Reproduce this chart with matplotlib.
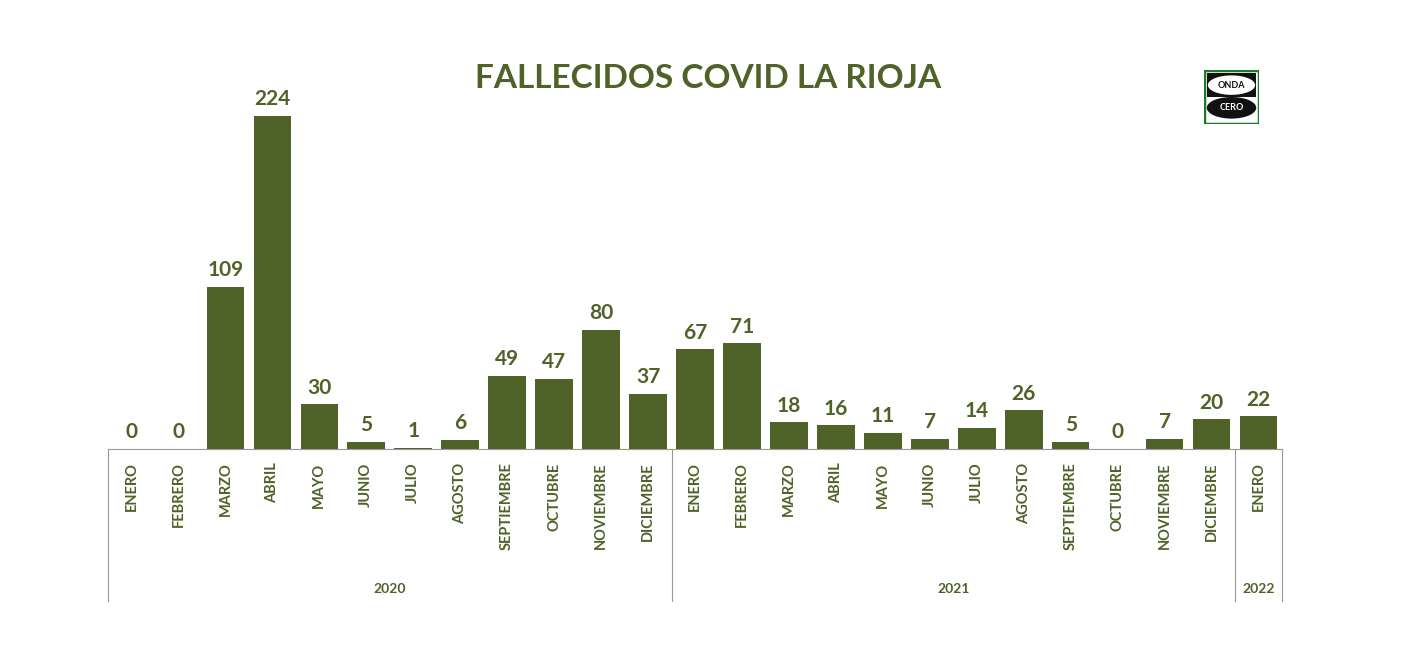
import matplotlib.pyplot as plt
from matplotlib.patches import Ellipse, Rectangle

months = ['ENERO', 'FEBRERO', 'MARZO', 'ABRIL', 'MAYO', 'JUNIO', 'JULIO', 'AGOSTO',
          'SEPTIEMBRE', 'OCTUBRE', 'NOVIEMBRE', 'DICIEMBRE',
          'ENERO', 'FEBRERO', 'MARZO', 'ABRIL', 'MAYO', 'JUNIO', 'JULIO', 'AGOSTO',
          'SEPTIEMBRE', 'OCTUBRE', 'NOVIEMBRE', 'DICIEMBRE', 'ENERO']
fallecidos = [0, 0, 109, 224, 30, 5, 1, 6, 49, 47, 80, 37,
              67, 71, 18, 16, 11, 7, 14, 26, 5, 0, 7, 20, 22]
years = ['2020', '2021', '2022']
year_counts = [12, 12, 1]

color = '#4F6228'
plt.rcParams['font.family'] = ['Lato', 'DejaVu Sans']

fig = plt.figure(figsize=(14.16, 6.72), dpi=100)
ax = fig.add_axes([108/1416, 1-449/672, 1174/1416, 389/672])
x = list(range(len(months)))
ax.bar(x, fallecidos, width=0.8, color=color)
ax.set_xlim(-0.5, len(months)-0.5)
ax.set_ylim(0, 389/333*224)
for xi, v in zip(x, fallecidos):
    ax.text(xi, v + 4.5, str(v), ha='center', va='bottom', fontsize=15, fontweight='bold', color=color)
for s in ['top', 'right', 'left']:
    ax.spines[s].set_visible(False)
ax.spines['bottom'].set_color('#999999')
ax.set_yticks([])
ax.set_xticks([])
for xi, m in zip(x, months):
    ax.text(xi, -0.035, m, rotation=90, ha='center', va='top', fontsize=10.5,
            fontweight='bold', color=color, transform=ax.get_xaxis_transform())

# year group separators and labels
start = 0
bounds = [0]
for y, n in zip(years, year_counts):
    ax.text(start + n/2 - 0.5, -0.36, y, ha='center', va='center', fontsize=10,
            fontweight='bold', color=color, transform=ax.get_xaxis_transform())
    start += n
    bounds.append(start)
for b in bounds:
    ax.plot([b-0.5, b-0.5], [0, -0.39], color='#999999', lw=0.8, clip_on=False,
            transform=ax.get_xaxis_transform())

fig.text(0.5, 1-78/672, 'FALLECIDOS COVID LA RIOJA', ha='center', va='center',
         fontsize=24, fontweight='bold', color=color)

# logo
lax = fig.add_axes([1204/1416, 1-124/672, 55/1416, 54/672])
lax.set_xlim(0, 1)
lax.set_ylim(0, 1)
lax.axis('off')
lax.add_patch(Rectangle((0, 0), 1, 1, facecolor='white', edgecolor='#1a7a2a', lw=2.5))
lax.add_patch(Rectangle((0.06, 0.5), 0.88, 0.44, facecolor='#111111'))
lax.add_patch(Ellipse((0.5, 0.72), 0.86, 0.36, facecolor='white'))
lax.add_patch(Ellipse((0.5, 0.3), 0.9, 0.4, facecolor='#111111'))
lax.text(0.5, 0.72, 'ONDA', ha='center', va='center', fontsize=6.5, fontweight='bold', color='#111111')
lax.text(0.5, 0.3, 'CERO', ha='center', va='center', fontsize=6.5, fontweight='bold', color='white')

fig.savefig('out.png', dpi=100)
